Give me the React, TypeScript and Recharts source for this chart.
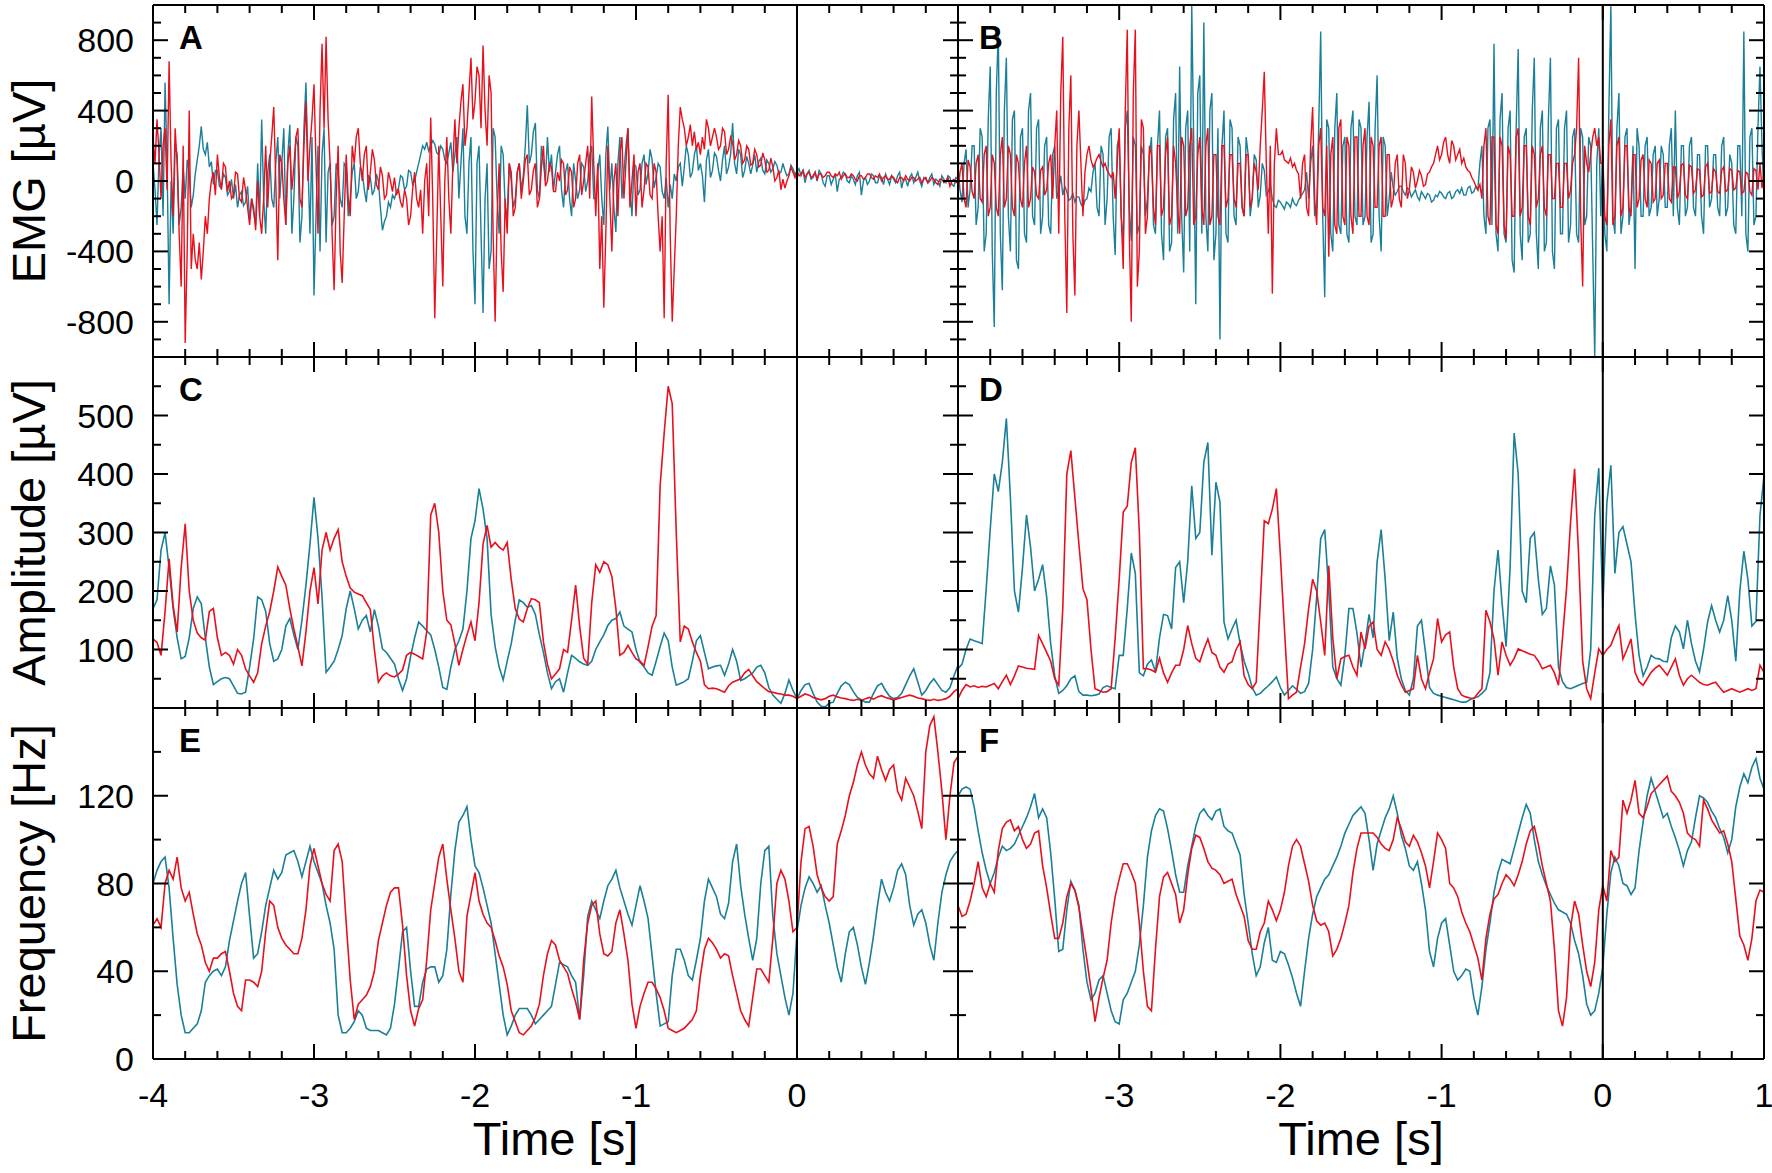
import React from 'react';
import { Line, LineChart, ReferenceLine, XAxis, YAxis } from 'recharts';

const TEAL = '#1a7f99';
const RED = '#e8101c';
const FONT = '"Liberation Sans", Arial, sans-serif';

// sampling grids of the traces, both starting at -4 s and ending at 1 s
const T0 = -4;
const DT_EMG = 0.0125;
const DT = 0.025;

const TIME_TICKS = [-4, -3.8, -3.6, -3.4, -3.2, -3, -2.8, -2.6, -2.4, -2.2, -2, -1.8, -1.6, -1.4, -1.2, -1, -0.8, -0.6, -0.4, -0.2, 0, 0.2, 0.4, 0.6, 0.8, 1];
const TIME_MAJORS = [-4, -3, -2, -1, 0, 1];
const LEFT_TIME_LABELS = [-4, -3, -2, -1, 0];
const RIGHT_TIME_LABELS = [-3, -2, -1, 0, 1];

const EMG_TICKS = [-1000, -900, -800, -700, -600, -500, -400, -300, -200, -100, 0, 100, 200, 300, 400, 500, 600, 700, 800, 900, 1000];
const EMG_LABELS = [-800, -400, 0, 400, 800];
const AMP_TICKS = [0, 50, 100, 150, 200, 250, 300, 350, 400, 450, 500, 550, 600];
const AMP_LABELS = [100, 200, 300, 400, 500];
const FREQ_TICKS = [0, 20, 40, 60, 80, 100, 120, 140, 160];
const FREQ_LABELS = [0, 40, 80, 120];

// A: EMG, left recording (12.5 ms samples)
const EMG_A_TEAL = [
  100, -50, -250, 150, 300, -200, 560, 100, -700, 0, -300, 200, 150, -250, -150, 80, -100, 120, 50, -150,
  -80, 40, 120, 200, 310, 180, 150, 220, 80, 110, -20, 60, 60, -30, -40, 40, 20, -80, -60, 10,
  -100, -20, -150, -80, -60, -140, -120, -30, -220, -100, -180, -250, 100, -200, 350, -100, -300, 50, 150, -100,
  -150, 100, 250, -100, 100, 300, -250, 150, 320, -300, -100, 250, 200, -350, -200, 300, 560, 100, -300, 250,
  -650, -200, 200, -400, 150, 300, -350, 50, 100, -250, -200, 100, 50, -100, -150, 100, 80, -200, -100, 50,
  100, -100, -60, 80, 50, -50, -120, 30, 20, -80, -50, 40, 0, -150, -280, -230, -200, -120, -150, -80,
  -100, -60, -40, 30, 20, -50, -30, 60, 50, -20, 0, 50, 100, 150, 200, 180, 220, 170, 200, 230,
  210, 160, 150, 200, 180, 120, 100, 160, 220, 50, 150, 250, -100, 100, 300, -200, -300, 100, 250, -400,
  -700, 100, 200, -300, -750, -100, 100, -500, -400, 300, 250, -100, -300, 200, 150, -150, -200, 100, 0, -150,
  -100, 50, 100, -50, 30, 200, 430, 100, 150, 280, 330, -50, -100, 200, 100, 0, 250, 50, 150, -50,
  50, 150, 200, -50, -150, 50, 100, -100, -200, 100, 0, -100, -50, 100, 80, -60, 0, 150, 200, -100,
  -100, 50, 150, -100, -250, 150, 310, -50, 100, -150, -290, 100, 250, -100, 50, 200, 300, -50, -200, 100,
  80, -80, -50, 100, 150, -20, 50, 180, 120, -40, 20, 100, 80, -60, -100, 20, -150, -20, -100, 40,
  0, 80, 100, -30, 80, 200, 150, 20, 50, 150, 200, 60, 100, 30, -120, 120, 180, 20, 60, 160,
  140, 60, 0, 120, 200, 40, 80, 150, 330, 100, 40, 180, 150, 20, 60, 140, 100, 40, 90, 150,
  50, 110, 130, 60, 40, 120, 100, 50, 70, 110, 90, 40, 50, 100, 60, 30, 40, 90, 70, 40,
  50, 70, 30, 60, -10, 40, 60, 10, 20, 50, 0, 60, 40, -10, -30, 30, 30, -20, 10, 40,
  -60, 10, 20, 50, 40, 0, -10, 30, 10, -20, 30, 50, -80, 0, 20, -20, 0, 40, 30, -10,
  -10, 30, 20, -20, 40, 10, -20, 30, 10, -10, 30, 50, -40, 10, 10, -30, 20, 40, -10, 20,
  50, 0, -30, 20, 10, -10, 20, 40, -20, 10, 0, -30, 30, 10, -10, 30, 20, -20, -30, 20, 10,
];
const EMG_A_RED = [
  250, 100, 350, 150, -100, 200, 300, -50, 680, 100, -200, 300, 100, -300, -600, 200, -920, -400, 400, -500,
  -300, -450, -500, -350, -560, -400, -200, -300, -100, 0, 50, -80, 150, 20, -50, 100, 80, -60, 0, -100,
  -80, 50, 40, -100, -120, 20, -50, -150, -250, -100, -150, -280, 0, -200, -300, -100, 200, -150, 100, 250,
  420, 0, -450, 150, 100, -100, -250, 100, 200, -50, 80, 250, 300, -100, -150, 200, 450, 0, 200, 350,
  550, 100, -300, 400, 780, 300, 820, 350, 100, -300, -620, -100, 200, -400, -580, -200, 150, -100, -200, 200,
  100, 250, 300, 100, 0, 150, 200, -50, 50, 180, 120, -20, -50, 80, 30, -100, -80, 50, 0, -60,
  20, -80, -50, -120, -150, -50, -100, -250, -200, -50, 50, -100, -150, -50, -300, 0, 100, -200, 360, -100,
  -780, -300, 200, -200, -600, 0, 250, -100, -300, 100, 350, 100, 300, 450, 550, 200, 300, 500, 700, 350,
  450, 650, 600, 300, 770, 400, 200, 600, 500, -300, -800, -200, 100, -400, -630, -100, -300, 100, 50, -200,
  -150, 50, 100, -100, 0, 120, 150, -80, -50, 60, 100, -150, -100, 80, 200, -30, 0, 100, 80, -60,
  -60, 50, 0, 120, 100, -80, -50, 80, 50, -150, -100, 100, 150, -80, 0, 100, 200, -100, 480, 100,
  -200, 100, -500, -200, -720, -300, 200, -100, -400, 0, 100, -200, 150, 250, -100, 100, 300, -150, 0, 150,
  -200, 50, 100, -150, -50, 100, 80, -80, -100, 100, 50, -200, -400, -200, -780, 100, 490, -300, -800, -500,
  -200, 200, 420, 350, 300, 200, 250, 320, 200, 280, 180, 220, 150, 250, 180, 350, 300, 200, 250, 300,
  250, 180, 200, 300, 280, 150, 180, 250, 220, 120, 150, 230, 200, 100, 120, 200, 180, 90, 100, 180,
  150, 80, 90, 160, 120, 50, 60, 130, 80, 0, 20, 60, -50, 10, -40, 0, 30, 80, 50, 20,
  60, 30, 40, 60, 20, 40, 50, 20, 30, 50, 10, 40, 40, 20, 30, 50, 50, 30, 20, 40,
  30, 50, 10, 30, 40, 20, 20, 40, 30, 10, 0, 30, 30, 10, 20, 40, 40, 20, 10, 30,
  20, 40, 0, 20, 30, 10, 10, 30, 20, 0, -10, 20, 20, 0, 30, 10, 0, 20, 20, 0,
  10, 20, -10, 10, 20, -10, 0, 20, 10, -10, -20, 10, 10, -10, 0, 20, -30, 0, 10, -10, 0,
];

// B: EMG, right recording (12.5 ms samples)
const EMG_B_TEAL = [
  80, -50, -120, 100, 180, -150, -50, 200, 200, -250, -150, 300, 250, -400, -300, 350, 650, -400, -830, 500,
  850, -300, -620, 400, 700, -200, -400, 350, 400, -450, -500, 250, 300, -300, -350, 400, 500, -200, -250, 300,
  350, -300, -200, 200, 250, -250, -300, 150, 200, -100, -50, 30, -80, -30, -60, -110, -100, -70, -120, -90,
  -90, -130, -150, -110, -100, -40, -60, 50, 100, -150, -200, 200, 150, -250, -100, 250, 300, -200, -420, 200,
  250, -200, -350, 300, 400, -150, -340, 250, 200, -300, -250, 200, 150, -200, -100, 150, 250, -250, -300, 200,
  400, -300, -450, 250, 300, -400, -350, 350, 500, -300, 650, -200, -520, 300, 400, -400, 1000, 200, -700, 500,
  600, -300, 900, -200, -400, 400, 500, -450, -300, 300, -900, 200, 400, -300, -350, 350, 300, -200, -250, 250,
  200, -150, -200, 250, 150, -200, -100, 150, 120, -150, -80, 100, 60, -80, -60, -20, -100, -140, -150, -110,
  -120, -140, -160, -120, -130, -150, -100, -130, -140, -110, -90, -70, -50, 50, -100, 100, 200, -200, -150, 300,
  850, -200, -660, 350, 300, -300, -400, 300, 500, -250, -300, 200, 250, -300, -350, 300, 400, -200, -250, 350,
  300, -250, -200, 250, 450, -350, -300, 300, 600, -200, -400, 250, 200, -200, -100, 50, -40, -80, -60, -30,
  -30, -60, -80, -40, -50, -90, -70, -50, -90, -110, -60, -80, -100, -70, -80, -120, -110, -80, -90, -60,
  -70, -90, -100, -70, -60, -100, -90, -60, -50, -70, -40, -80, -80, -40, -30, -70, -60, -30, -50, 100,
  200, -200, -300, 300, 350, -250, 780, -300, -400, 350, 500, -300, -350, 300, 400, -450, -520, 300, 750, -300,
  -450, 250, 300, -350, -300, 400, 700, -300, -500, 300, 400, -400, -350, 350, 700, -400, -500, 300, 350, -300,
  -300, 300, 400, -350, -250, 250, 300, -300, -350, 300, 250, -250, -200, 250, 200, -400, -1000, 100, 300, -200,
  200, -300, -400, 400, 1000, -200, -300, 300, 500, -300, -200, 250, 300, -250, -150, 200, -500, 300, 200, -200,
  -200, 200, 250, -200, -150, 150, 200, -200, -100, 200, 150, -150, -150, 200, 300, -200, 400, -150, -250, 200,
  200, -200, -150, 200, 250, -150, -200, 150, 150, -200, -300, 200, 200, -150, -100, 150, 150, -150, -200, 200,
  250, -200, -150, 150, 100, -250, -300, 200, 200, -200, 850, -300, -400, 250, 300, -250, -200, 300, 650, 200, -100,
];
const EMG_B_RED = [
  -80, 50, 100, -100, -150, 120, 80, -60, -100, 100, 150, -100, -120, 150, 200, -200, -150, 150, 100, -150,
  -200, 150, 250, -150, -100, 200, 150, -150, -200, 150, 100, -100, -150, 100, 200, -150, -100, 80, 50, -80,
  -100, 60, 80, -80, -50, 100, 150, -100, 200, 400, -300, 500, 820, -200, -750, 300, 600, -300, -650, 200,
  400, 100, -200, 50, 150, 200, 120, 80, 100, 130, 150, 110, 80, 100, 60, 40, 20, 50, -100, 100,
  300, -200, -500, 400, 860, -300, -800, 500, 860, -600, -400, 350, 300, -300, -200, 200, 150, -150, -250, 200,
  200, -200, -150, 150, 250, -250, -200, 200, 100, -150, -300, 250, 200, -200, -150, 200, 300, -250, -200, 150,
  250, -150, -250, 200, 300, -250, -200, 150, 150, -200, -250, 200, 200, -150, -100, 150, 150, -100, -150, 100,
  100, -150, -200, 150, 150, -150, -100, 100, 50, -50, 200, 400, 620, 100, -300, 200, -640, 100, 300, 150,
  150, 170, 120, 110, 100, 130, 80, 100, 60, 40, -100, 100, 150, -150, -200, 200, 420, -100, -250, 200,
  300, -150, -200, 200, -430, 150, 250, -250, -300, 300, 350, -200, -250, 250, 200, -200, -300, 250, 250, -200,
  -200, 200, 300, -200, -250, 250, 200, -150, -150, 200, 250, -200, -200, 150, 150, -150, -100, 100, 150, -100,
  -150, 150, 100, -100, -50, 80, 50, -40, 0, 60, 30, -30, -20, 40, 50, 80, 100, 150, 200, 120,
  150, 220, 250, 150, 100, 230, 200, 120, 150, 180, 100, 130, 80, 60, 50, 20, 0, -30, -50, -20,
  -100, 200, 300, -200, -250, 250, 250, -250, -300, 250, 200, -250, -330, 200, 150, -200, -200, 250, 300, -200,
  -150, 200, 200, -200, -250, 200, 150, -150, -100, 150, 200, -150, -200, 150, 150, -100, -100, 100, 100, -150,
  -150, 100, 100, -100, -50, 100, 150, 300, 700, -200, -600, 200, 100, 50, 150, 250, 300, 200, 250, 100,
  100, -200, -250, 200, 350, -250, -200, 200, 250, -200, -150, 200, 200, -150, -200, 150, 150, -150, -100, 120,
  150, -100, -150, 120, 100, -120, -100, 100, 120, -100, -80, 100, 100, -100, -120, 80, 80, -100, -60, 90,
  100, -80, -100, 90, 80, -70, -50, 70, 60, -90, -80, 80, 100, -70, -60, 70, 50, -60, -70, 60,
  80, -60, -50, 70, 60, -50, -40, 60, 50, -70, -60, 50, 40, -60, -80, 70, 60, -50, 100, -40, 50,
];

// C: amplitude, left (25 ms samples)
const AMP_C_TEAL = [
  170, 185, 270, 300, 240, 170, 120, 84, 88, 120,
  170, 190, 178, 120, 70, 40, 45, 50, 52, 50,
  38, 25, 24, 27, 70, 118, 190, 185, 165, 110,
  80, 84, 100, 140, 153, 125, 100, 150, 210, 280,
  360, 290, 190, 61, 70, 80, 100, 124, 170, 200,
  170, 135, 150, 158, 130, 168, 140, 101, 95, 85,
  75, 50, 30, 50, 88, 120, 147, 140, 132, 125,
  100, 70, 35, 32, 70, 100, 115, 135, 200, 290,
  320, 375, 340, 290, 160, 105, 70, 48, 80, 110,
  150, 185, 180, 172, 175, 160, 125, 95, 60, 33,
  45, 50, 27, 60, 90, 85, 79, 75, 73, 80,
  100, 113, 125, 141, 150, 153, 164, 140, 135, 130,
  100, 78, 70, 60, 56, 80, 105, 128, 115, 70,
  39, 42, 45, 50, 80, 115, 124, 95, 67, 70,
  72, 73, 56, 75, 100, 80, 47, 50, 55, 60,
  70, 73, 60, 35, 22, 15, 8, 25, 48, 30,
  16, 30, 40, 42, 25, 10, 3, 2, 8, 10,
  25, 38, 44, 40, 28, 18, 14, 10, 10, 25,
  38, 42, 30, 20, 16, 18, 25, 40, 55, 67,
  45, 22, 30, 42, 50, 40, 30, 27, 35, 55, 73,
];
const AMP_C_RED = [
  118, 112, 90, 165, 255, 175, 130, 240, 315, 200,
  150, 128, 120, 116, 165, 170, 120, 90, 95, 90,
  75, 100, 90, 67, 55, 44, 60, 110, 140, 165,
  200, 241, 225, 210, 170, 135, 105, 72, 130, 200,
  240, 178, 270, 300, 270, 290, 305, 250, 225, 205,
  198, 195, 192, 180, 168, 100, 44, 55, 60, 55,
  53, 58, 65, 90, 95, 92, 88, 84, 130, 330,
  350, 300, 200, 150, 142, 110, 73, 100, 125, 147,
  115, 180, 280, 312, 275, 283, 275, 270, 283, 220,
  170, 152, 147, 170, 187, 185, 180, 113, 75, 50,
  58, 67, 100, 95, 150, 210, 140, 85, 75, 180,
  245, 232, 250, 245, 225, 170, 90, 95, 107, 95,
  84, 80, 73, 105, 140, 158, 380, 470, 550, 520,
  300, 113, 140, 135, 113, 95, 80, 40, 33, 34,
  33, 30, 27, 38, 44, 47, 50, 60, 66, 55,
  45, 39, 33, 28, 27, 25, 24, 22, 22, 20,
  16, 20, 24, 22, 18, 16, 14, 16, 20, 22,
  19, 17, 16, 14, 13, 15, 13, 16, 18, 15,
  19, 21, 18, 16, 14, 16, 18, 20, 22, 20,
  17, 16, 14, 13, 15, 13, 14, 16, 20, 28, 33,
];

// D: amplitude, right
const AMP_D_TEAL = [
  67, 75, 100, 118, 115, 113, 110, 204, 306, 400,
  370, 420, 495, 360, 200, 164, 240, 330, 275, 200,
  220, 245, 190, 110, 55, 25, 30, 38, 50, 55,
  28, 22, 22, 21, 22, 24, 35, 38, 35, 33,
  90, 90, 170, 265, 230, 60, 55, 75, 82, 62,
  120, 160, 158, 135, 240, 250, 180, 250, 380, 290,
  300, 420, 454, 261, 386, 352, 147, 118, 135, 150,
  110, 80, 60, 35, 22, 25, 32, 38, 45, 53,
  35, 22, 30, 38, 32, 25, 28, 42, 100, 190,
  290, 305, 200, 70, 50, 39, 90, 170, 170, 128,
  70, 110, 160, 120, 250, 305, 220, 115, 164, 85,
  50, 30, 22, 50, 140, 150, 95, 35, 25, 22,
  20, 18, 16, 14, 12, 10, 10, 14, 17, 19,
  25, 32, 60, 200, 270, 180, 105, 240, 470, 400,
  200, 180, 290, 300, 220, 160, 170, 243, 210, 70,
  45, 35, 33, 36, 39, 42, 44, 100, 330, 410,
  170, 350, 415, 230, 300, 310, 280, 250, 160, 90,
  55, 70, 90, 85, 84, 80, 79, 120, 140, 130,
  101, 150, 110, 80, 62, 100, 147, 175, 150, 130,
  150, 192, 150, 80, 200, 268, 220, 140, 148, 329, 397,
];
const AMP_D_RED = [
  16, 30, 40, 36, 38, 35, 37, 36, 39, 42,
  33, 45, 56, 40, 55, 72, 70, 68, 67, 66,
  124, 110, 95, 80, 50, 39, 170, 400, 440, 360,
  280, 204, 185, 100, 33, 30, 27, 28, 33, 120,
  220, 335, 345, 420, 445, 300, 67, 67, 65, 61,
  85, 60, 44, 60, 73, 73, 100, 141, 110, 85,
  79, 100, 118, 95, 90, 70, 61, 75, 79, 100,
  113, 55, 40, 33, 44, 180, 320, 315, 340, 375,
  260, 135, 16, 22, 27, 70, 110, 170, 220, 200,
  147, 90, 243, 120, 50, 84, 88, 90, 70, 56,
  130, 101, 140, 147, 100, 90, 113, 100, 80, 56,
  40, 27, 30, 33, 90, 50, 33, 60, 84, 153,
  113, 125, 130, 70, 33, 22, 19, 17, 16, 25,
  33, 167, 147, 118, 56, 113, 90, 73, 85, 101,
  98, 95, 92, 90, 80, 67, 70, 73, 60, 39,
  120, 204, 318, 409, 261, 80, 33, 16, 60, 101,
  90, 100, 107, 125, 141, 84, 100, 118, 61, 45,
  39, 50, 61, 68, 73, 65, 56, 70, 84, 56,
  39, 50, 56, 50, 44, 40, 39, 42, 44, 35,
  27, 30, 33, 30, 27, 30, 33, 30, 33, 73, 61,
];

// E: frequency, left
const FREQ_E_TEAL = [
  80, 86, 90, 92, 78, 55, 34, 20, 12, 12,
  14, 16, 22, 35, 38, 40, 41, 38, 42, 54,
  63, 72, 80, 85, 65, 46, 48, 58, 70, 78,
  86, 82, 85, 93, 94, 95, 90, 83, 90, 97,
  90, 85, 80, 70, 62, 50, 20, 12, 12, 14,
  17, 22, 20, 14, 13, 13, 13, 12, 11, 14,
  25, 41, 58, 60, 40, 24, 24, 35, 41, 42,
  42, 35, 38, 50, 75, 95, 108, 111, 115, 100,
  88, 85, 78, 70, 62, 48, 34, 20, 11, 15,
  20, 23, 23, 23, 20, 16, 18, 20, 22, 24,
  34, 44, 43, 42, 38, 35, 18, 38, 65, 72,
  68, 64, 72, 79, 82, 86, 78, 72, 66, 61,
  70, 79, 72, 64, 47, 30, 15, 16, 17, 38,
  50, 50, 45, 38, 36, 45, 55, 72, 82, 78,
  74, 66, 64, 71, 90, 98, 79, 66, 55, 45,
  55, 80, 95, 97, 65, 48, 38, 28, 20, 30,
  58, 70, 78, 83, 80, 76, 79, 70, 62, 52,
  42, 35, 48, 58, 60, 52, 42, 34, 44, 56,
  70, 82, 76, 72, 78, 86, 89, 84, 70, 61,
  66, 68, 62, 52, 45, 62, 76, 84, 90, 93, 95,
];
const FREQ_E_RED = [
  61, 64, 60, 80, 86, 82, 92, 78, 72, 76,
  66, 57, 52, 44, 40, 46, 46, 48, 49, 40,
  30, 24, 22, 36, 36, 35, 33, 40, 58, 72,
  70, 60, 55, 52, 50, 48, 48, 55, 68, 88,
  96, 88, 80, 75, 72, 95, 98, 90, 62, 36,
  18, 25, 27, 29, 33, 40, 54, 62, 70, 76,
  78, 78, 61, 38, 22, 15, 23, 27, 45, 68,
  80, 92, 98, 82, 68, 55, 40, 35, 65, 75,
  85, 72, 66, 62, 60, 54, 47, 42, 34, 22,
  17, 12, 11, 13, 15, 19, 25, 38, 48, 54,
  52, 45, 42, 39, 32, 26, 18, 45, 62, 70,
  72, 57, 48, 47, 49, 62, 68, 57, 45, 25,
  14, 24, 30, 35, 35, 32, 28, 22, 14, 13,
  12, 13, 14, 16, 18, 22, 38, 50, 55, 53,
  50, 46, 48, 47, 38, 30, 22, 18, 15, 28,
  41, 41, 38, 35, 55, 80, 86, 82, 72, 58,
  60, 90, 105, 106, 97, 84, 78, 74, 72, 74,
  98, 104, 111, 120, 126, 134, 140, 134, 130, 128,
  138, 132, 127, 132, 134, 122, 118, 128, 124, 120,
  113, 105, 140, 152, 156, 140, 122, 100, 120, 135, 138,
];

// F: frequency, right
const FREQ_F_TEAL = [
  120, 123, 124, 123, 115, 104, 94, 86, 80, 85,
  92, 97, 95, 96, 98, 102, 106, 110, 115, 121,
  110, 114, 110, 94, 73, 49, 50, 68, 81, 77,
  70, 50, 35, 27, 30, 36, 38, 30, 22, 17,
  16, 27, 30, 35, 40, 52, 70, 92, 104, 111,
  114, 113, 105, 95, 84, 76, 76, 88, 97, 106,
  112, 114, 111, 109, 113, 114, 106, 104, 103, 98,
  93, 75, 62, 48, 38, 42, 53, 60, 45, 44,
  49, 48, 43, 37, 30, 24, 40, 55, 66, 74,
  78, 82, 84, 88, 92, 97, 103, 107, 111, 113,
  115, 112, 100, 86, 98, 104, 110, 114, 120, 112,
  102, 96, 88, 86, 90, 80, 68, 49, 42, 55,
  62, 64, 52, 40, 36, 38, 41, 40, 28, 20,
  33, 50, 62, 76, 85, 91, 90, 89, 96, 103,
  110, 116, 112, 100, 90, 84, 79, 75, 71, 68,
  67, 66, 62, 54, 48, 38, 25, 20, 22, 30,
  42, 66, 85, 92, 88, 80, 79, 75, 78, 95,
  108, 120, 128, 122, 116, 110, 112, 106, 101, 95,
  88, 95, 99, 110, 120, 119, 117, 113, 110, 105,
  101, 94, 100, 115, 124, 130, 126, 133, 137, 128, 123,
];
const FREQ_F_RED = [
  70, 65, 66, 72, 80, 90, 78, 74, 80, 76,
  95, 105, 108, 109, 104, 106, 100, 96, 98, 103,
  104, 88, 78, 66, 55, 55, 62, 74, 80, 77,
  69, 57, 45, 32, 17, 28, 37, 45, 62, 74,
  82, 89, 89, 85, 80, 62, 40, 24, 22, 50,
  74, 83, 85, 80, 75, 62, 68, 84, 96, 102,
  101, 96, 90, 87, 86, 84, 80, 81, 82, 75,
  70, 65, 54, 50, 50, 58, 62, 72, 68, 63,
  68, 76, 88, 97, 100, 97, 89, 81, 70, 63,
  61, 62, 58, 47, 50, 55, 62, 70, 85, 96,
  103, 103, 103, 103, 101, 98, 96, 95, 100, 110,
  105, 99, 97, 102, 99, 94, 88, 78, 90, 103,
  100, 96, 80, 78, 74, 67, 62, 58, 52, 46,
  36, 55, 66, 73, 75, 80, 84, 82, 79, 84,
  90, 98, 104, 106, 98, 88, 80, 72, 50, 22,
  15, 28, 60, 72, 66, 52, 40, 33, 44, 68,
  79, 72, 95, 90, 92, 118, 112, 118, 127, 112,
  110, 115, 121, 123, 125, 127, 129, 122, 120, 117,
  112, 103, 101, 100, 97, 118, 114, 109, 106, 103,
  104, 98, 90, 73, 56, 52, 45, 55, 72, 77, 76,
];

type Row = { t: number; teal: number; red: number };

function buildRows(teal: number[], red: number[], dt: number): Row[] {
  return teal.map((v, i) => ({ t: Math.round((T0 + i * dt) * 10000) / 10000, teal: v, red: red[i] }));
}

const near = (list: number[], v: number) => list.some((l) => Math.abs(l - v) < 1e-6);

const MAJOR = 15;
const MINOR = 8;
const TICK_FONT = 34;

function bottomTick(labels: number[] | null) {
  return (p: any) => {
    const v = p.payload.value;
    const len = near(TIME_MAJORS, v) ? MAJOR : MINOR;
    return (
      <g>
        <line x1={p.x} y1={p.y} x2={p.x} y2={p.y - len} stroke="#000" strokeWidth={2} />
        {labels && near(labels, v) && (
          <text x={p.x} y={p.y + 48} textAnchor="middle" fontSize={TICK_FONT} fontFamily={FONT} fill="#000">
            {String(v)}
          </text>
        )}
      </g>
    );
  };
}

function topTick(p: any) {
  const v = p.payload.value;
  const len = near(TIME_MAJORS, v) ? MAJOR : MINOR;
  return <line x1={p.x} y1={p.y} x2={p.x} y2={p.y + len} stroke="#000" strokeWidth={2} />;
}

function leftTick(majors: number[], showLabels: boolean) {
  return (p: any) => {
    const v = p.payload.value;
    const len = near(majors, v) ? MAJOR : MINOR;
    return (
      <g>
        <line x1={p.x} y1={p.y} x2={p.x + len} y2={p.y} stroke="#000" strokeWidth={2} />
        {showLabels && near(majors, v) && (
          <text x={p.x - 19} y={p.y + 12} textAnchor="end" fontSize={TICK_FONT} fontFamily={FONT} fill="#000">
            {String(v)}
          </text>
        )}
      </g>
    );
  };
}

function rightTick(majors: number[]) {
  return (p: any) => {
    const v = p.payload.value;
    const len = near(majors, v) ? MAJOR : MINOR;
    return <line x1={p.x} y1={p.y} x2={p.x - len} y2={p.y} stroke="#000" strokeWidth={2} />;
  };
}

const AXIS_LINE = { stroke: '#000', strokeWidth: 2 };

interface PanelProps {
  rows: Row[];
  x: number;
  y: number;
  w: number;
  h: number;
  yDomain: [number, number];
  yTicks: number[];
  yMajors: number[];
  yLabelled: boolean;
  xLabels: number[] | null;
  lineWidth: number;
}

function Panel({ rows, x, y, w, h, yDomain, yTicks, yMajors, yLabelled, xLabels, lineWidth }: PanelProps) {
  const m = 4;
  const leftW = yLabelled ? x : 1;
  const bottomH = xLabels ? 70 : 1;
  const width = leftW + w + 1 + 10;
  const height = m + 1 + h + bottomH + m;
  return (
    <div style={{ position: 'absolute', left: x - leftW, top: y - m - 1, width, height }}>
      <LineChart width={width} height={height} data={rows} margin={{ top: m, right: 10, bottom: m, left: 0 }}>
        <XAxis
          xAxisId="b"
          dataKey="t"
          type="number"
          domain={[-4, 1]}
          ticks={TIME_TICKS}
          interval={0}
          allowDataOverflow
          orientation="bottom"
          height={bottomH}
          tickSize={0}
          tickMargin={0}
          tickLine={false}
          axisLine={AXIS_LINE}
          tick={bottomTick(xLabels)}
        />
        <XAxis
          xAxisId="t"
          dataKey="t"
          type="number"
          domain={[-4, 1]}
          ticks={TIME_TICKS}
          interval={0}
          allowDataOverflow
          orientation="top"
          height={1}
          tickSize={0}
          tickMargin={0}
          tickLine={false}
          axisLine={AXIS_LINE}
          tick={topTick}
        />
        <YAxis
          yAxisId="l"
          type="number"
          domain={yDomain}
          ticks={yTicks}
          interval={0}
          allowDataOverflow
          width={leftW}
          tickSize={0}
          tickMargin={0}
          tickLine={false}
          axisLine={AXIS_LINE}
          tick={leftTick(yMajors, yLabelled)}
        />
        <YAxis
          yAxisId="r"
          dataKey="teal"
          orientation="right"
          type="number"
          domain={yDomain}
          ticks={yTicks}
          interval={0}
          allowDataOverflow
          width={1}
          tickSize={0}
          tickMargin={0}
          tickLine={false}
          axisLine={AXIS_LINE}
          tick={rightTick(yMajors)}
        />
        <Line
          xAxisId="b"
          yAxisId="l"
          type="linear"
          dataKey="teal"
          stroke={TEAL}
          strokeWidth={lineWidth}
          dot={false}
          activeDot={false}
          isAnimationActive={false}
        />
        <Line
          xAxisId="b"
          yAxisId="l"
          type="linear"
          dataKey="red"
          stroke={RED}
          strokeWidth={lineWidth}
          dot={false}
          activeDot={false}
          isAnimationActive={false}
        />
        <ReferenceLine xAxisId="b" yAxisId="l" x={0} stroke="#000" strokeWidth={2} />
      </LineChart>
    </div>
  );
}

const LEFT_X = 153;
const RIGHT_X = 958;
const LEFT_W = 805;
const RIGHT_W = 806;
const ROW_Y = [5, 357, 708];
const ROW_H = [352, 351, 351];

const PANELS = [
  { letter: 'A', rows: buildRows(EMG_A_TEAL, EMG_A_RED, DT_EMG), right: false, row: 0, dom: [-1000, 1000], ticks: EMG_TICKS, majors: EMG_LABELS },
  { letter: 'B', rows: buildRows(EMG_B_TEAL, EMG_B_RED, DT_EMG), right: true, row: 0, dom: [-1000, 1000], ticks: EMG_TICKS, majors: EMG_LABELS },
  { letter: 'C', rows: buildRows(AMP_C_TEAL, AMP_C_RED, DT), right: false, row: 1, dom: [0, 600], ticks: AMP_TICKS, majors: AMP_LABELS },
  { letter: 'D', rows: buildRows(AMP_D_TEAL, AMP_D_RED, DT), right: true, row: 1, dom: [0, 600], ticks: AMP_TICKS, majors: AMP_LABELS },
  { letter: 'E', rows: buildRows(FREQ_E_TEAL, FREQ_E_RED, DT), right: false, row: 2, dom: [0, 160], ticks: FREQ_TICKS, majors: FREQ_LABELS },
  { letter: 'F', rows: buildRows(FREQ_F_TEAL, FREQ_F_RED, DT), right: true, row: 2, dom: [0, 160], ticks: FREQ_TICKS, majors: FREQ_LABELS },
];

const Y_TITLES = ['EMG [µV]', 'Amplitude [µV]', 'Frequency [Hz]'];

export default function App() {
  return (
    <div style={{ position: 'absolute', left: 0, top: 0, width: 1772, height: 1173, overflow: 'hidden', background: '#fff' }}>
      {PANELS.map((p) => (
        <Panel
          key={p.letter}
          rows={p.rows}
          x={p.right ? RIGHT_X : LEFT_X}
          y={ROW_Y[p.row]}
          w={p.right ? RIGHT_W : LEFT_W}
          h={ROW_H[p.row]}
          yDomain={p.dom as [number, number]}
          yTicks={p.ticks}
          yMajors={p.majors}
          yLabelled={!p.right}
          xLabels={p.row === 2 ? (p.right ? RIGHT_TIME_LABELS : LEFT_TIME_LABELS) : null}
          lineWidth={p.row === 0 ? 1.4 : 1.6}
        />
      ))}
      <svg width={1772} height={1173} style={{ position: 'absolute', left: 0, top: 0, pointerEvents: 'none' }}>
        {PANELS.map((p) => (
          <text
            key={p.letter}
            x={p.right ? RIGHT_X + 21 : LEFT_X + 26}
            y={ROW_Y[p.row] + 44}
            fontSize={33}
            fontWeight="bold"
            fontFamily={FONT}
            fill="#000"
          >
            {p.letter}
          </text>
        ))}
        {Y_TITLES.map((t, i) => (
          <text
            key={t}
            transform={`translate(45, ${ROW_Y[i] + ROW_H[i] / 2}) rotate(-90)`}
            textAnchor="middle"
            fontSize={47}
            fontFamily={FONT}
            fill="#000"
          >
            {t}
          </text>
        ))}
        <text x={LEFT_X + LEFT_W / 2} y={1155} textAnchor="middle" fontSize={47} fontFamily={FONT} fill="#000">
          Time [s]
        </text>
        <text x={RIGHT_X + RIGHT_W / 2} y={1155} textAnchor="middle" fontSize={47} fontFamily={FONT} fill="#000">
          Time [s]
        </text>
      </svg>
    </div>
  );
}
